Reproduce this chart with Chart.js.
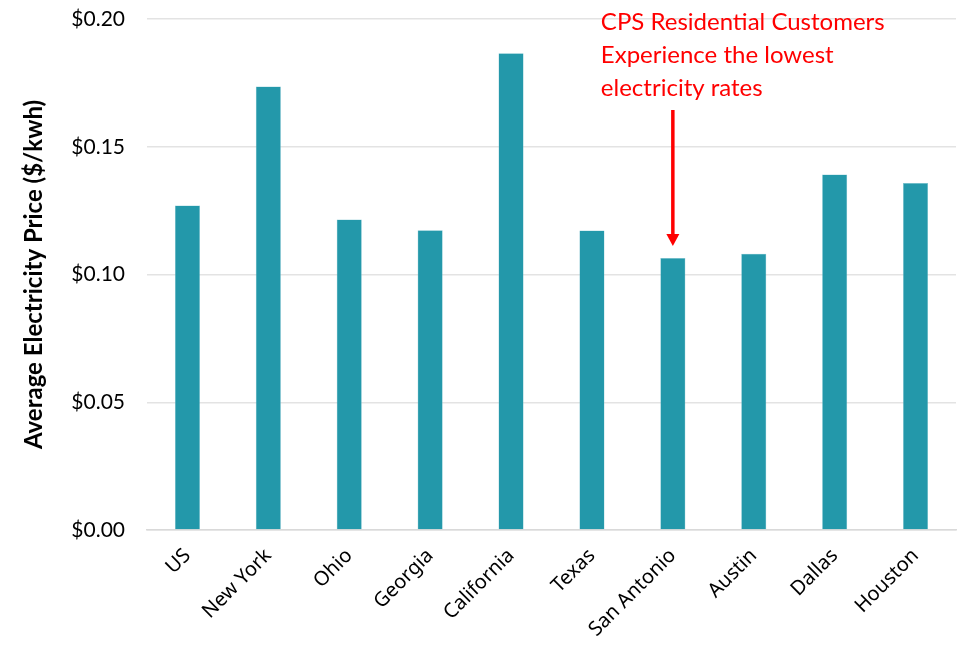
<!DOCTYPE html>
<html>
<head>
<meta charset="utf-8">
<script src="https://cdn.jsdelivr.net/npm/chart.js@4"></script>
<style>
  html, body { margin: 0; padding: 0; background: #fff; }
  #wrap { width: 957px; height: 647px; }
</style>
</head>
<body>
<div id="wrap"><canvas id="priceChart"></canvas></div>
<script>
const places = ["US", "New York", "Ohio", "Georgia", "California", "Texas", "San Antonio", "Austin", "Dallas", "Houston"];
const prices = [0.127, 0.1736, 0.1215, 0.1173, 0.1866, 0.1172, 0.1065, 0.1081, 0.1391, 0.1358];
const yTicks = [0, 0.05, 0.10, 0.15, 0.20];
const noteLines = ["CPS Residential Customers", "Experience the lowest", "electricity rates"];
const noteIndex = 6; // San Antonio

// red callout with arrow pointing at the San Antonio bar
const calloutPlugin = {
  id: "callout",
  afterDraw(chart) {
    const ctx = chart.ctx;
    const x = chart.scales.x.getPixelForValue(noteIndex);
    const yBar = chart.scales.y.getPixelForValue(prices[noteIndex]);
    ctx.save();
    ctx.fillStyle = "#ff0000";
    ctx.strokeStyle = "#ff0000";
    ctx.font = "24px Lato";
    ctx.textBaseline = "middle";
    noteLines.forEach((t, i) => ctx.fillText(t, x - 72, 22 + i * 33));
    const tipY = yBar - 12;
    ctx.lineWidth = 3.5;
    ctx.beginPath();
    ctx.moveTo(x, 110);
    ctx.lineTo(x, tipY - 10);
    ctx.stroke();
    ctx.beginPath();
    ctx.moveTo(x - 6.5, tipY - 12);
    ctx.lineTo(x + 6.5, tipY - 12);
    ctx.lineTo(x, tipY);
    ctx.closePath();
    ctx.fill();
    ctx.restore();
  }
};

new Chart(document.getElementById("priceChart"), {
  type: "bar",
  data: {
    labels: places,
    datasets: [{
      label: "Average Electricity Price",
      data: prices,
      backgroundColor: "#2398aa",
      borderColor: "#7cc3cf",
      borderWidth: 0.5,
      categoryPercentage: 1,
      barPercentage: 0.31
    }]
  },
  options: {
    responsive: true,
    maintainAspectRatio: false,
    animation: false,
    layout: { padding: { top: 19, right: 1, left: 0, bottom: 0 } },
    plugins: {
      legend: { display: false },
      tooltip: { enabled: false }
    },
    scales: {
      x: {
        grid: { display: false, drawTicks: false },
        border: { color: "#d9d9d9", width: 1.5 },
        ticks: {
          color: "#000",
          font: { family: "Noto Sans", size: 20 },
          maxRotation: 45,
          minRotation: 45,
          padding: 14,
          autoSkip: false
        },
        afterFit(s) {
          s.height = 117;
          s.paddingLeft = 0;
          s.paddingRight = 0;
          s.paddingTop = 0;
        }
      },
      y: {
        min: 0,
        max: 0.2,
        afterBuildTicks(s) { s.ticks = yTicks.map(v => ({ value: v })); },
        grid: { color: "#e3e3e3", lineWidth: 1.5, drawTicks: false },
        border: { display: false },
        ticks: {
          color: "#000",
          font: { family: "Lato", size: 21 },
          padding: 22,
          callback: v => "$" + v.toFixed(2)
        },
        title: {
          display: true,
          text: "Average Electricity Price ($/kwh)",
          color: "#000",
          font: { family: "Lato", size: 24, weight: "bold" },
          padding: { top: 20, bottom: 0 }
        },
        afterFit(s) {
          s.width = 147;
          s.paddingTop = 0;
          s.paddingBottom = 0;
        }
      }
    }
  },
  plugins: [calloutPlugin]
});
</script>
</body>
</html>
